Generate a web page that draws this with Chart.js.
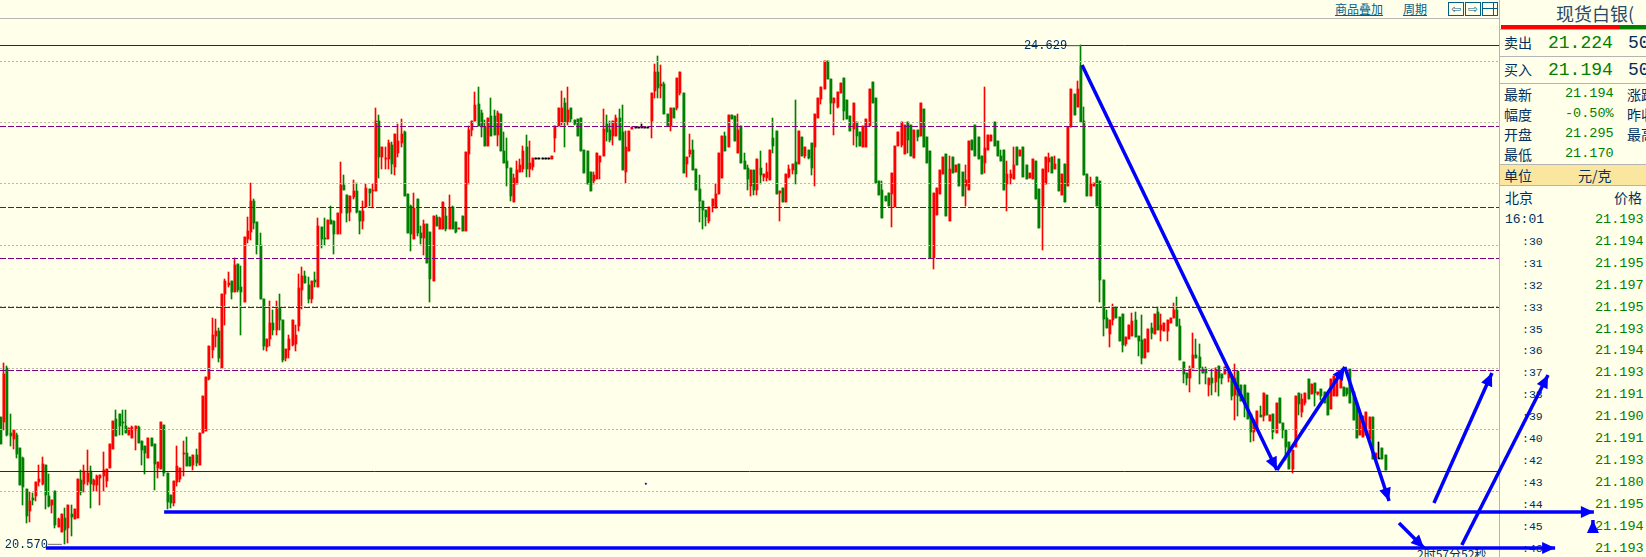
<!DOCTYPE html>
<html>
<head>
<meta charset="utf-8">
<title>现货白银</title>
<script src="https://cdn.jsdelivr.net/npm/chart.js@4"></script>
<style>
html, body { margin: 0; padding: 0; width: 1646px; height: 557px; overflow: hidden; background: #ffffea; }
#stage { position: relative; width: 1646px; height: 557px; overflow: hidden; }
#chart { position: absolute; left: 0; top: 0; z-index: 5; pointer-events: none; }
.t { position: absolute; white-space: nowrap; color: #003060; font-family: "Noto Sans CJK SC", sans-serif; font-size: 14px; line-height: 16px; }
.num { font-family: "Liberation Mono", monospace; color: #008000; font-size: 13.5px; }
.rule { position: absolute; background: #b4b4b4; }
.link { color: #00608a; text-decoration: underline; font-size: 12px; }
.btn { position: absolute; top: 2px; height: 12px; width: 14px; border: 1px solid #00608a; color: #00608a; font: 12px/12px "DejaVu Sans", sans-serif; text-align: center; }
</style>
</head>
<body>
<div id="stage">
<canvas id="chart" width="1646" height="557"></canvas>
</div>
<script>
// silver price candles (one line = 10 bars)
const opens = [
21.60,21.56,22.00,21.47,21.42,21.46,21.35,21.27,21.02,20.84,
20.94,20.96,21.07,21.06,21.21,20.96,20.89,21.00,20.71,20.67,
20.78,20.70,20.81,20.77,20.78,21.09,21.06,21.07,21.16,21.05,
21.05,21.11,21.12,21.08,21.19,21.34,21.59,21.63,21.56,21.53,
21.46,21.43,21.50,21.52,21.41,21.37,21.27,21.43,21.38,21.19,
21.18,21.54,21.15,20.97,20.90,21.07,21.10,21.30,21.31,21.28,
21.21,21.29,21.21,21.47,21.49,21.91,22.15,22.26,22.30,22.00,
22.60,22.68,22.71,22.62,22.85,22.66,22.54,23.05,23.11,23.36,
23.19,23.00,22.56,22.17,22.24,22.37,22.31,22.49,22.39,22.08,
22.15,22.19,22.20,22.34,22.64,22.75,22.68,22.56,22.72,22.66,
23.15,23.06,23.05,23.21,23.20,23.09,23.26,23.49,23.41,23.27,
23.39,23.44,23.28,23.20,23.31,23.46,23.44,23.44,24.01,23.72,
23.70,23.70,23.82,23.64,23.75,23.83,23.92,23.42,23.32,23.05,
23.38,23.10,23.06,23.17,23.11,22.71,23.23,23.13,23.13,23.24,
23.13,23.31,23.19,23.13,23.24,23.12,23.74,23.94,24.01,24.15,
24.08,23.96,23.81,24.05,24.05,23.90,24.07,23.77,23.69,23.63,
23.35,23.50,23.60,23.62,23.80,23.62,23.64,23.71,23.71,23.71,
23.71,23.71,23.70,23.87,23.97,24.00,24.16,24.00,24.12,24.02,
24.03,24.04,23.78,23.77,23.60,23.52,23.54,23.68,23.73,23.99,
23.94,23.89,23.89,24.04,23.92,23.60,23.77,23.95,23.96,23.96,
23.96,23.96,23.96,24.01,24.26,24.41,24.30,24.31,24.07,23.97,
24.12,24.12,24.24,24.24,23.66,23.74,23.78,23.62,23.46,23.36,
23.29,23.20,23.32,23.30,23.42,23.55,23.89,23.80,24.06,24.05,
23.75,23.97,23.69,23.63,23.48,23.61,23.45,23.63,23.56,23.55,
23.53,23.87,23.93,23.43,23.47,23.35,23.56,23.61,23.68,23.66,
23.88,23.73,23.78,23.83,23.80,24.04,24.19,24.27,24.50,24.35,
24.16,24.13,24.24,24.36,24.18,24.05,23.95,24.00,23.92,23.80,
23.80,23.97,24.33,24.20,23.52,23.45,23.40,23.43,23.42,23.31,
23.81,23.82,23.74,24.00,23.98,23.71,23.94,23.89,24.11,23.88,
23.77,22.90,23.25,23.42,23.58,23.74,23.20,23.72,23.60,23.66,
23.60,23.48,23.45,23.86,23.98,23.88,23.73,23.67,23.78,23.85,
24.00,23.85,23.73,23.78,23.50,23.55,23.54,23.80,23.73,23.80,
23.65,23.55,23.54,23.69,23.46,23.32,23.50,23.68,23.72,23.62,
23.70,23.41,23.66,23.48,23.96,24.23,24.13,24.46,24.01,23.58,
23.40,23.48,23.56,23.52,
22.72,22.41,22.28,22.39,22.50,22.42,
22.44,22.20,22.24,22.26,22.39,22.26,22.23,22.08,22.13,22.33,
22.28,22.46,22.31,22.30,22.30,22.37,22.41,22.47,22.34,22.05,
21.96,21.92,21.99,22.11,22.09,21.99,21.99,21.86,21.92,21.89,
22.02,21.95,21.95,21.92,21.92,21.78,21.98,21.86,21.86,21.80,
21.63,21.48,21.50,21.62,21.61,21.78,21.57,21.63,21.47,21.76,
21.55,21.50,21.40,21.18,21.36,21.80,21.64,21.72,21.91,21.79,
21.88,21.79,21.83,21.81,21.79,21.67,21.77,21.77,21.84,21.85,
21.84,21.99,21.81,21.72,21.46,21.44,21.46,21.42,21.60,21.27,
21.27,21.35,21.29
];
const closes = [
21.38,21.95,21.46,21.45,21.50,21.30,21.05,21.03,20.80,20.92,
20.93,21.07,21.10,21.22,20.97,20.88,20.93,20.72,20.77,20.81,
20.68,20.89,20.79,20.85,21.10,20.99,21.16,21.15,21.06,21.09,
21.12,21.13,21.17,21.18,21.38,21.57,21.45,21.53,21.55,21.47,
21.51,21.52,21.53,21.39,21.33,21.31,21.43,21.37,21.22,21.24,
21.56,21.15,20.91,20.90,21.08,21.20,21.19,21.31,21.20,21.20,
21.29,21.23,21.47,21.77,21.93,22.18,22.27,22.30,22.08,22.60,
22.71,22.69,22.62,22.84,22.64,22.62,23.07,23.12,23.36,23.18,
23.00,22.56,22.18,22.24,22.37,22.31,22.48,22.39,22.07,22.16,
22.24,22.39,22.27,22.65,22.75,22.69,22.56,22.71,22.70,23.16,
23.05,23.05,23.21,23.17,23.09,23.26,23.49,23.45,23.26,23.40,
23.44,23.27,23.20,23.28,23.47,23.43,23.45,24.01,23.72,23.80,
23.71,23.83,23.66,23.91,23.85,23.91,23.40,23.10,23.09,23.30,
23.10,23.06,23.17,22.86,22.73,23.24,23.16,23.22,23.35,23.13,
23.30,23.13,23.11,23.14,23.12,23.76,23.94,24.01,24.14,23.97,
23.96,23.81,24.04,23.89,23.90,24.08,23.77,23.67,23.63,23.40,
23.55,23.61,23.65,23.77,23.62,23.67,23.71,23.71,23.71,23.71,
23.71,23.71,23.73,23.97,24.12,24.12,24.00,24.10,24.03,23.99,
23.89,23.77,23.59,23.50,23.44,23.57,23.75,23.73,23.95,23.92,
23.86,24.01,24.04,23.86,23.61,23.80,23.93,23.96,23.96,23.96,
23.96,23.96,23.96,24.24,24.41,24.28,24.31,24.07,23.97,24.12,
24.04,24.36,24.41,23.59,23.72,23.78,23.61,23.45,23.36,23.29,
23.23,23.31,23.38,23.42,23.75,23.89,23.77,24.06,24.03,23.85,
23.94,23.67,23.62,23.54,23.61,23.45,23.70,23.57,23.58,23.60,
23.78,23.81,23.42,23.44,23.35,23.58,23.62,23.66,23.58,23.93,
23.73,23.80,23.71,23.63,24.07,24.20,24.29,24.50,24.35,24.16,
24.20,24.25,24.32,24.09,24.03,23.93,24.16,23.89,23.81,23.97,
24.03,24.27,24.16,23.51,23.41,23.22,23.36,23.32,23.59,23.81,
23.92,24.00,23.98,23.86,23.73,23.94,23.88,24.16,23.80,23.67,
22.90,23.43,23.47,23.61,23.72,23.24,23.62,23.59,23.65,23.48,
23.40,23.53,23.85,23.78,23.73,23.70,23.58,23.79,23.90,23.90,
23.81,23.73,23.69,23.45,23.58,23.58,23.65,23.65,23.78,23.56,
23.54,23.59,23.70,23.38,23.14,23.62,23.72,23.71,23.59,23.66,
23.44,23.58,23.35,23.96,24.27,24.06,24.27,24.00,23.57,23.40,
23.50,23.51,23.32,22.72,
22.40,22.33,22.39,22.49,22.41,22.22,
22.19,22.25,22.35,22.38,22.25,22.22,22.08,22.24,22.32,22.29,
22.44,22.31,22.35,22.37,22.39,22.41,22.47,22.34,22.07,21.95,
21.92,21.99,22.11,22.08,21.99,21.96,21.96,21.92,21.88,22.00,
21.92,21.92,22.01,21.99,21.77,21.92,21.77,21.73,21.72,21.59,
21.48,21.58,21.65,21.60,21.80,21.62,21.62,21.48,21.72,21.55,
21.50,21.36,21.18,21.33,21.77,21.71,21.75,21.80,21.75,21.87,
21.80,21.81,21.77,21.72,21.62,21.91,21.94,21.91,21.96,21.77,
21.79,21.72,21.58,21.43,21.62,21.61,21.64,21.60,21.26,21.31,
21.27,21.26,21.17
];
const highs = [
21.60,22.04,22.02,21.63,21.50,21.47,21.35,21.28,21.02,20.99,
20.98,21.07,21.21,21.28,21.21,21.14,20.93,21.00,20.78,20.81,
20.86,20.89,20.89,20.85,21.10,21.17,21.21,21.33,21.20,21.10,
21.13,21.13,21.32,21.18,21.38,21.57,21.66,21.63,21.66,21.66,
21.51,21.53,21.53,21.53,21.41,21.37,21.43,21.43,21.38,21.24,
21.56,21.54,21.15,20.97,21.08,21.37,21.19,21.41,21.44,21.28,
21.29,21.34,21.47,21.77,21.93,22.18,22.41,22.40,22.33,22.60,
22.73,22.78,22.71,22.90,22.85,22.83,23.07,23.23,23.51,23.38,
23.19,23.10,22.56,22.24,22.55,22.47,22.55,22.60,22.39,22.16,
22.27,22.39,22.35,22.77,22.82,22.79,22.74,22.71,22.78,23.22,
23.15,23.22,23.21,23.32,23.20,23.26,23.68,23.57,23.41,23.40,
23.53,23.51,23.28,23.36,23.50,23.46,23.50,24.12,24.06,23.80,
23.80,23.86,23.84,23.91,23.99,24.03,23.93,23.42,23.33,23.43,
23.38,23.16,23.21,23.17,23.11,23.24,23.25,23.23,23.35,23.30,
23.41,23.32,23.19,23.14,23.24,23.76,23.97,24.01,24.25,24.29,
24.10,24.02,24.04,24.20,24.10,24.09,24.07,23.92,23.87,23.63,
23.58,23.69,23.70,23.81,23.90,23.85,23.71,23.71,23.71,23.71,
23.71,23.71,23.73,23.97,24.12,24.26,24.20,24.29,24.12,24.02,
24.03,24.04,23.78,23.77,23.60,23.60,23.75,23.73,24.11,24.06,
24.01,24.01,24.06,24.11,24.14,23.93,23.93,23.96,23.96,23.96,
23.99,23.96,23.96,24.24,24.48,24.54,24.47,24.33,24.07,24.12,
24.12,24.36,24.41,24.24,23.72,23.91,23.86,23.62,23.57,23.36,
23.29,23.31,23.38,23.50,23.75,23.89,23.92,24.06,24.06,24.05,
24.07,23.97,23.75,23.65,23.61,23.61,23.70,23.77,23.58,23.67,
23.78,24.04,23.93,23.44,23.47,23.58,23.65,23.66,24.18,23.93,
23.88,23.80,23.78,23.83,24.07,24.20,24.29,24.50,24.50,24.35,
24.20,24.25,24.32,24.36,24.18,24.05,24.16,24.00,23.92,23.97,
24.03,24.27,24.33,24.20,23.52,23.52,23.40,23.43,23.59,23.81,
23.92,24.00,23.98,24.00,23.98,23.94,23.94,24.16,24.11,23.88,
23.77,23.43,23.47,23.61,23.72,23.74,23.73,23.72,23.65,23.66,
23.60,23.65,23.85,23.86,23.98,23.88,23.73,24.29,23.90,23.90,
24.00,23.85,23.78,23.78,23.69,23.61,23.80,23.80,23.78,23.80,
23.65,23.59,23.70,23.69,23.46,23.62,23.72,23.75,23.72,23.73,
23.70,23.58,23.66,23.96,24.27,24.23,24.34,24.63,24.13,23.58,
23.56,23.51,23.56,23.52,
22.72,22.47,22.39,22.52,22.50,22.42,
22.44,22.25,22.35,22.45,22.46,22.26,22.43,22.24,22.32,22.37,
22.44,22.50,22.44,22.37,22.39,22.41,22.53,22.58,22.40,22.05,
21.96,22.02,22.29,22.24,22.20,22.01,22.01,21.92,21.99,22.00,
22.02,21.95,22.01,21.99,21.95,22.03,21.98,21.86,21.86,21.80,
21.63,21.58,21.65,21.69,21.80,21.78,21.62,21.63,21.72,21.76,
21.55,21.50,21.40,21.33,21.77,21.80,21.79,21.80,21.91,21.87,
21.88,21.81,21.83,21.81,21.79,21.91,21.94,21.91,21.96,21.85,
21.84,21.99,21.81,21.72,21.62,21.61,21.64,21.60,21.60,21.31,
21.40,21.35,21.29
];
const lows = [
21.38,21.50,21.45,21.37,21.34,21.27,21.05,20.89,20.74,20.75,
20.89,20.92,21.04,21.05,20.85,20.87,20.82,20.70,20.71,20.67,
20.57,20.58,20.63,20.77,20.78,20.97,20.99,21.05,20.86,21.00,
21.00,20.89,21.00,21.03,21.19,21.34,21.45,21.46,21.46,21.47,
21.46,21.43,21.33,21.39,21.21,21.14,21.27,21.37,21.01,21.11,
21.18,21.12,20.85,20.86,20.88,21.04,21.07,21.12,21.20,21.20,
21.17,21.20,21.21,21.47,21.49,21.90,22.08,22.17,22.05,22.00,
22.35,22.66,22.56,22.62,22.62,22.27,22.54,23.02,23.04,23.13,
22.93,22.56,22.15,22.14,22.18,22.27,22.27,22.31,22.05,22.06,
22.08,22.18,22.14,22.30,22.48,22.69,22.53,22.53,22.66,22.66,
22.98,23.00,23.05,23.17,22.93,23.09,23.09,23.45,23.19,23.20,
23.38,23.26,23.09,23.13,23.31,23.32,23.30,23.44,23.55,23.62,
23.62,23.62,23.58,23.57,23.72,23.80,23.40,23.10,22.95,23.05,
23.08,23.01,22.92,22.86,22.54,22.71,23.16,23.13,23.13,23.12,
23.13,23.13,23.10,23.13,23.12,23.12,23.50,23.89,24.01,23.97,
23.88,23.81,23.81,23.89,23.90,23.81,23.77,23.67,23.48,23.36,
23.35,23.50,23.60,23.60,23.56,23.56,23.61,23.71,23.71,23.71,
23.71,23.71,23.70,23.76,23.97,23.98,23.80,23.98,24.00,23.98,
23.89,23.77,23.59,23.50,23.44,23.50,23.54,23.54,23.73,23.85,
23.84,23.82,23.89,23.86,23.61,23.51,23.77,23.95,23.96,23.96,
23.96,23.96,23.96,23.87,24.20,24.20,24.20,24.07,23.97,23.93,
24.04,24.10,24.22,23.59,23.56,23.72,23.61,23.45,23.19,23.13,
23.16,23.18,23.27,23.30,23.42,23.55,23.77,23.80,24.03,23.85,
23.75,23.67,23.62,23.45,23.40,23.41,23.41,23.50,23.52,23.52,
23.53,23.75,23.42,23.20,23.35,23.35,23.55,23.58,23.50,23.66,
23.73,23.71,23.70,23.57,23.48,24.04,24.15,24.27,24.35,24.07,
23.90,24.12,24.24,24.02,24.03,23.93,23.82,23.80,23.81,23.80,
23.80,23.97,24.16,23.51,23.41,23.22,23.36,23.32,23.15,23.31,
23.81,23.80,23.74,23.75,23.73,23.71,23.85,23.89,23.80,23.67,
22.90,22.81,23.25,23.42,23.58,23.24,23.20,23.59,23.60,23.48,
23.40,23.32,23.45,23.78,23.73,23.70,23.58,23.59,23.78,23.85,
23.81,23.73,23.69,23.45,23.28,23.50,23.54,23.65,23.73,23.56,
23.54,23.55,23.54,23.38,23.14,22.96,23.50,23.60,23.59,23.62,
23.44,23.41,23.35,23.48,23.96,24.06,24.13,24.00,23.57,23.40,
23.40,23.48,23.32,22.54,
22.26,22.33,22.17,22.35,22.41,22.22,
22.13,22.18,22.24,22.26,22.25,22.10,22.03,22.08,22.13,22.24,
22.28,22.31,22.22,22.30,22.22,22.37,22.41,22.34,22.07,21.88,
21.86,21.81,21.99,22.08,21.87,21.96,21.87,21.77,21.78,21.81,
21.77,21.87,21.95,21.89,21.74,21.58,21.61,21.73,21.60,21.59,
21.40,21.41,21.50,21.60,21.57,21.62,21.57,21.42,21.47,21.55,
21.43,21.25,21.18,21.15,21.36,21.62,21.60,21.70,21.75,21.79,
21.69,21.78,21.74,21.72,21.62,21.67,21.77,21.77,21.84,21.77,
21.77,21.72,21.58,21.43,21.46,21.44,21.46,21.42,21.26,21.27,
21.27,21.26,21.17
];

// indicator levels across the price pane
const dottedLevels = [24.5, 24.0, 23.5, 23.0, 22.5, 22.0, 21.5, 21.0];
const dashedLevels = [23.97, 23.31, 22.895, 22.49, 21.985];
const solidLevels = [24.629, 21.16];

// hand drawn blue arrows: [from bar, from price, to bar, to price]
const arrows = [
    [337.3, 24.468, 398.1, 21.171],
    [398.1, 21.171, 419.3, 22.010],
    [419.3, 22.010, 433.1, 20.919],
    [447.1, 20.903, 465.2, 21.961],
    [455.8, 20.561, 482.7, 21.944],
    [50.9, 20.829, 497.0, 20.829],
    [14.0, 20.536, 484.9, 20.536],
    [436.2, 20.740, 444.0, 20.536],
    [496.7, 20.683, 496.7, 20.764]
];
const stray = [{ x: 201.2, y: 21.06 }];

// price notes on the chart
const highNote = { text: '24.629', bar: 337, price: 24.629 };
const lowNote = { text: '20.570', bar: 19, price: 20.57 };

// quote panel
const quoteRows = [
    ['最新', '21.194', '涨跌'],
    ['幅度', '-0.50%', '昨收'],
    ['开盘', '21.295', '最高'],
    ['最低', '21.170', '']
];
const tickTimes = ['16:01', ':30', ':31', ':32', ':33', ':35', ':36', ':37', ':38', ':39', ':40', ':42', ':43', ':44', ':45', ':46'];
const tickPrices = ['21.193', '21.194', '21.195', '21.197', '21.195', '21.193', '21.194', '21.193', '21.191', '21.190', '21.191', '21.193', '21.180', '21.195', '21.194', '21.193'];

const stage = document.getElementById('stage');

function addText(text, x, y, cls, extra) {
    const el = document.createElement('div');
    el.className = 't ' + (cls || '');
    el.textContent = text;
    el.style.left = x + 'px';
    el.style.top = y + 'px';
    if (extra) Object.assign(el.style, extra);
    stage.appendChild(el);
    return el;
}

function addBox(x, y, w, h, color) {
    const el = document.createElement('div');
    el.className = 'rule';
    el.style.cssText = `left:${x}px;top:${y}px;width:${w}px;height:${h}px;` + (color ? `background:${color};` : '');
    stage.appendChild(el);
}

function buildPanel() {
    addBox(0, 18, 1499, 1);
    addBox(1499, 0, 1, 557);
    [29, 56, 83, 164, 185].forEach(y => addBox(1500, y, 146, 1));
    addBox(1500, 165, 146, 20, '#fbe6a0');
    addBox(1501, 25, 119, 4, '#ff0000');
    addBox(1620, 25, 26, 4, '#008000');

    addText('商品叠加', 1335, 1, 'link');
    addText('周期', 1403, 1, 'link');
    ['⇦', '⇨'].forEach((s, i) => {
        const b = document.createElement('div');
        b.className = 'btn';
        b.textContent = s;
        b.style.left = (1448 + i * 17) + 'px';
        stage.appendChild(b);
    });
    const split = document.createElement('div');
    split.className = 'btn';
    split.style.left = '1482px';
    split.style.background = 'linear-gradient(#00608a,#00608a) 0 5px/100% 1px no-repeat, linear-gradient(#00608a,#00608a) 10px 0/1px 100% no-repeat';
    stage.appendChild(split);

    addText('现货白银(', 1556, 1, '', { fontSize: '18px', lineHeight: '24px', color: '#2a4a6a' });
    addText('卖出', 1504, 34, '');
    addText('21.224', 1548, 33, 'num', { fontSize: '18px', lineHeight: '20px' });
    addText('50', 1628, 33, 'num', { fontSize: '18px', lineHeight: '20px', color: '#003060' });
    addText('买入', 1504, 61, '');
    addText('21.194', 1548, 60, 'num', { fontSize: '18px', lineHeight: '20px' });
    addText('50', 1628, 60, 'num', { fontSize: '18px', lineHeight: '20px', color: '#003060' });

    quoteRows.forEach((row, i) => {
        const y = 86 + i * 20;
        addText(row[0], 1504, y, '');
        addText(row[1], 1565, y, 'num');
        if (row[2]) addText(row[2], 1627, y, '');
    });
    addText('单位', 1504, 167, '');
    addText('元/克', 1578, 167, '');
    addText('北京', 1505, 189, '');
    addText('价格', 1614, 189, '');

    tickTimes.forEach((t, i) => {
        const y = 212 + i * 21.9;
        if (i === 0) addText(t, 1505, y, 'num', { color: '#003060', fontSize: '13px' });
        else addText(t, 1522, y, 'num', { color: '#003060', fontSize: '11.5px' });
        addText(tickPrices[i], 1595, y, 'num', { fontSize: '13.5px' });
    });
    addText('2时57分52秒', 1417, 546, '', { fontSize: '12px' });
}

const barPx = 3.205;
const priceTop = 24.997;
const priceBottom = 20.463;
const levelStart = -1 / barPx;
const levelEnd = 467.4;

function barColor(i) {
    if (closes[i] > opens[i]) return '#ff0000';
    if (closes[i] < opens[i]) return '#008000';
    return '#000000';
}

const colors = opens.map((o, i) => barColor(i));
const wickData = opens.map((o, i) => ({ x: i, y: [lows[i], highs[i]] }));
const bodyData = opens.map((o, i) => ({ x: i, y: [Math.min(o, closes[i]), Math.max(o, closes[i])] }));

function levelSet(levels, color, dash) {
    return levels.map(v => ({
        type: 'line',
        data: [{ x: levelStart, y: v }, { x: levelEnd, y: v }],
        borderColor: color,
        borderWidth: 1,
        borderDash: dash,
        pointRadius: 0,
        order: 1,
        crisp: true
    }));
}

const arrowSets = arrows.map(a => ({
    type: 'line',
    data: [{ x: a[0], y: a[1] }, { x: a[2], y: a[3] }],
    borderColor: '#0000ff',
    borderWidth: 3.5,
    pointRadius: 0,
    order: 0
}));

// snap the thin marks to whole pixels, like the terminal draws them
const snapPlugin = {
    id: 'snap',
    afterDatasetsUpdate(chart) {
        chart.data.datasets.forEach((ds, i) => {
            const els = chart.getDatasetMeta(i).data;
            if (ds.crisp) {
                els.forEach(el => { el.y = Math.floor(el.y) + 0.5; });
            }
            if (ds.snapBar !== undefined) {
                els.forEach(el => {
                    el.x = Math.round(el.x) - ds.snapBar;
                    el.y = Math.round(el.y);
                    el.base = Math.round(el.base);
                    if (el.base - el.y < 1) el.base = el.y + 1;
                });
            }
        });
    }
};

const notePlugin = {
    id: 'notes',
    afterDatasetsDraw(chart) {
        const { ctx, scales } = chart;
        const xs = scales.x;
        const ys = scales.y;
        ctx.save();
        // arrow heads
        ctx.fillStyle = '#0000ff';
        arrows.forEach(a => {
            const x0 = xs.getPixelForValue(a[0]);
            const y0 = ys.getPixelForValue(a[1]);
            const x1 = xs.getPixelForValue(a[2]);
            const y1 = ys.getPixelForValue(a[3]);
            const ang = Math.atan2(y1 - y0, x1 - x0);
            ctx.save();
            ctx.translate(x1, y1);
            ctx.rotate(ang);
            ctx.beginPath();
            ctx.moveTo(0, 0);
            ctx.lineTo(-13, -6);
            ctx.lineTo(-13, 6);
            ctx.closePath();
            ctx.fill();
            ctx.restore();
        });
        // high and low notes
        ctx.font = '12px "Liberation Mono", monospace';
        ctx.textBaseline = 'middle';
        ctx.textAlign = 'right';
        [highNote, lowNote].forEach(n => {
            const x = xs.getPixelForValue(n.bar);
            const y = ys.getPixelForValue(n.price);
            ctx.strokeStyle = '#707070';
            ctx.beginPath();
            ctx.moveTo(x - 14, y + 0.5);
            ctx.lineTo(x, y + 0.5);
            ctx.stroke();
            ctx.fillStyle = '#003060';
            ctx.fillText(n.text, x - 14, y + 1);
        });
        ctx.restore();
    }
};

buildPanel();

new Chart(document.getElementById('chart').getContext('2d'), {
    type: 'bar',
    data: {
        datasets: [
            { data: wickData, backgroundColor: colors, barThickness: 1, grouped: false, order: 3, snapBar: 0.5 },
            { data: bodyData, backgroundColor: colors, barThickness: 2, grouped: false, order: 2, snapBar: 0 },
            ...levelSet(dottedLevels, '#b8b8a8', [2, 2]),
            ...levelSet(dashedLevels, '#800080', [6, 2]),
            ...levelSet(solidLevels, '#660066', []),
            ...arrowSets,
            { type: 'scatter', data: stray, backgroundColor: '#0000ff', pointRadius: 1, order: 0 }
        ]
    },
    options: {
        responsive: false,
        devicePixelRatio: 1,
        animation: false,
        layout: { padding: 0, autoPadding: false },
        plugins: { legend: { display: false }, tooltip: { enabled: false } },
        scales: {
            x: { type: 'linear', display: false, offset: false, min: -1 / barPx, max: 1645 / barPx },
            y: { display: false, min: priceBottom, max: priceTop }
        }
    },
    plugins: [snapPlugin, notePlugin]
});
</script>
</body>
</html>
